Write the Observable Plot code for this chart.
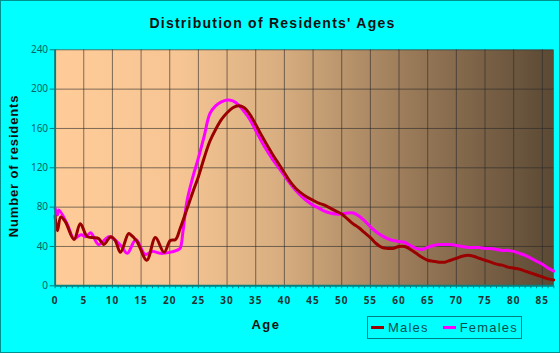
<!DOCTYPE html>
<html><head><meta charset="utf-8">
<script src="https://cdn.jsdelivr.net/npm/d3@7"></script>
<script src="https://cdn.jsdelivr.net/npm/@observablehq/plot@0.6"></script>
<style>
body{margin:0;background:#fff;}
#chart{position:relative;width:560px;height:353px;background:#00ffff;overflow:hidden;font-family:Arial,"Liberation Sans",sans-serif;}
#border{position:absolute;left:0;top:0;width:558px;height:351px;border:1px solid #009090;pointer-events:none;}
#plot{position:absolute;left:0;top:0;}
#title{position:absolute;left:0;width:545px;top:15px;text-align:center;font-weight:bold;font-size:14px;letter-spacing:1.25px;color:#111;}
#ylab{position:absolute;left:13px;top:166px;transform:translate(-50%,-50%) rotate(-90deg);white-space:nowrap;font-weight:bold;font-size:13px;letter-spacing:0.85px;color:#111;}
#xlab{position:absolute;left:266px;top:324px;transform:translate(-50%,-50%);font-weight:bold;font-size:13px;letter-spacing:1.5px;color:#111;}
#legend{position:absolute;left:367px;top:316px;width:153px;height:21px;border:1px solid #008080;display:flex;align-items:center;font-size:13px;letter-spacing:1.2px;color:#005050;}
.sw{display:inline-block;width:13px;height:3px;margin:0 4px 0 3px;}
svg [aria-label="x-axis tick label"] text{letter-spacing:1px;}
</style></head>
<body>
<div id="chart">
  <div id="plot"></div>
  <div id="title">Distribution of Residents' Ages</div>
  <div id="ylab">Number of residents</div>
  <div id="xlab">Age</div>
  <div id="legend"><span class="sw" style="background:#9b0000"></span>Males<span class="sw" style="background:#ff00ff;margin-left:14px"></span>Females</div>
  <div id="border"></div>
</div>
<script>
const maleAges = [0,0.4,1,1.8,3.3,4.4,5.6,6.7,7.6,8.5,9.7,10.5,11.4,12.8,13.2,14.3,16,17.5,19,20.1,21,21.8,23,24,25,26,27,28,29,30,31,32,33,34,35,36,37,38,39,40,41,42,43,44,45,46,47,48,49,50,51,52,53,54,55,56,57,58,59,60,61,62,63,64,65,66,67,68,69,70,71,72,73,74,75,76,77,78,79,80,81,82,83,84,85,86,87];
const maleValues = [71,56,70,65,47,63,50,49,48,42,50,46,34,53,52,45,26,49,34,46,47,58,78,95,111,130,147,159,169,176,181,183,181,174,164,153,143,133,124,115,106,99,94,90,87,84,82,79,76,73,68,63,59,54,49,43,39,38,38,40,40,37,33,29,26,25,24,24,26,28,30,31,30,28,26,24,22,21,19,18,17,15,13,11,9,7,6];
const femaleAges = [0,0.4,0.65,2.1,3.3,4.5,5.4,6.2,7.6,9.4,10.6,11.6,12.6,14.1,15.7,17,18.4,20,21.2,21.8,22.3,23,24,25,26,27,28,29,30,31,32,33,34,35,36,37,38,39,40,41,42,43,44,45,46,47,48,49,50,51,52,53,54,55,56,57,58,59,60,61,62,63,64,65,66,67,68,69,70,71,72,73,74,75,76,77,78,79,80,81,82,83,84,85,86,87];
const femaleValues = [79,72,77,63,48,52,50,54,42,50,46,40,33,47,32,35,33,34,36,38,55,86,110,130,152,175,183,187,189,188,184,177,169,158,147,137,128,120,112,104,97,91,86,82,79,76,74,73,73,74,74,71,66,60,55,51,48,46,45,44,41,38,37,39,41,42,42,42,41,40,39,39,39,38,38,37,36,36,35,33,31,28,25,22,18,15];
const xMajorTicks = d3.range(0, 86, 5);
const xMinorTicks = d3.range(0, 88, 1);
const yTicks = [0, 40, 80, 120, 160, 200, 240];

const males = maleAges.map((a, i) => ({age: a, value: maleValues[i]}));
const females = femaleAges.map((a, i) => ({age: a, value: femaleValues[i]}));

const teal = "#008080";
const chart = Plot.plot({
  width: 560, height: 353,
  marginLeft: 54.6, marginRight: 6.7, marginTop: 49.3, marginBottom: 67.7,
  style: {background: "transparent", overflow: "visible"},
  x: {domain: [0, 87]},
  y: {domain: [0, 240]},
  marks: [
    Plot.frame({fill: "url(#bggrad)", stroke: "none"}),
    Plot.gridX(xMajorTicks.filter(d => d > 0), {stroke: "#2a2a2a", strokeOpacity: 0.6, strokeWidth: 1}),
    Plot.gridY(yTicks.filter(d => d > 0), {stroke: "#2a2a2a", strokeOpacity: 0.6, strokeWidth: 1}),
    Plot.line(females, {x: "age", y: "value", curve: "catmull-rom", stroke: "#ff00ff", strokeWidth: 3}),
    Plot.line(males, {x: "age", y: "value", curve: "catmull-rom", stroke: "#9b0000", strokeWidth: 3}),
    Plot.axisY({ticks: yTicks, tickSize: 5, tickPadding: 2, stroke: teal, fill: "#006565", fontSize: 10, label: null}),
    Plot.axisX({ticks: xMinorTicks, tickSize: 3, tickFormat: () => "", stroke: teal, label: null}),
    Plot.axisX({ticks: xMajorTicks, tickSize: 0, tickPadding: 11, fill: "#1f3535", fontSize: 10, fontWeight: "bold", label: null}),
    Plot.ruleX([0], {stroke: teal, strokeWidth: 2}),
    Plot.ruleY([0], {stroke: teal, strokeWidth: 2})
  ]
});
const svg = d3.select(chart);
const defs = svg.insert("defs", ":first-child");
const g = defs.append("linearGradient").attr("id", "bggrad").attr("x1", 0).attr("x2", 1).attr("y1", 0).attr("y2", 0);
[[0, "#ffcc99"], [0.25, "#f6c593"], [0.45, "#d8ae80"], [0.7, "#9c7c5a"], [1, "#5b4934"]].forEach(([o, c]) =>
  g.append("stop").attr("offset", o).attr("stop-color", c));
document.getElementById("plot").appendChild(chart);
</script>
</body></html>
